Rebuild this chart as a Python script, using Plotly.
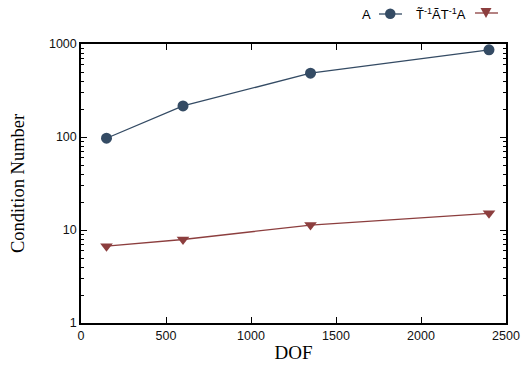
import plotly.graph_objects as go

dof = [150, 600, 1350, 2400]
cond_A = [97, 216, 485, 865]
cond_pre = [6.7, 7.9, 11.3, 15.1]
x_ticks = [0, 500, 1000, 1500, 2000, 2500]
y_ticks = [1, 10, 100, 1000]
y_tick_labels = ["1", "10", "100", "1000"]
series_names = ["A", "T̃<sup>-1</sup>ÃT<sup>-1</sup>A"]

BLUE = "#344B64"
RED = "#8C3E3E"

fig = go.Figure()
fig.add_trace(go.Scatter(x=dof, y=cond_A, mode="lines+markers", name=series_names[0],
                         line=dict(color=BLUE, width=1.3),
                         marker=dict(symbol="circle", size=11, color=BLUE)))
fig.add_trace(go.Scatter(x=dof, y=cond_pre, mode="lines+markers", name=series_names[1],
                         line=dict(color=RED, width=1.3),
                         marker=dict(symbol="triangle-down", size=11, color=RED)))

minor_vals = [k * 10 ** e for e in range(3) for k in range(2, 10)]

axis_common = dict(showgrid=False, zeroline=False, showline=True, linecolor="black",
                   linewidth=1.5, mirror="ticks", ticks="inside", tickcolor="black",
                   ticklen=6, tickwidth=1, automargin=False,
                   tickfont=dict(family="Liberation Sans, Arial", size=12.5, color="#111111"))

fig.update_xaxes(range=[0, 2500], tickvals=x_ticks,
                 title=dict(text="DOF", font=dict(family="Liberation Serif, Times New Roman", size=19, color="black"), standoff=4),
                 **axis_common)
fig.update_yaxes(type="log", range=[0, 3], tickvals=y_ticks, ticktext=y_tick_labels,
                 minor=dict(ticks="inside", ticklen=3, tickvals=minor_vals, tickcolor="black"),
                 title=dict(text="Condition Number", font=dict(family="Liberation Serif, Times New Roman", size=18.5, color="black"), standoff=19),
                 **axis_common)

# gnuplot-style legend (text before sample) at top right
shapes = [
    dict(type="line", xref="paper", yref="paper", x0=(379-81)/425, x1=(402-81)/425,
         y0=(323-14)/279, y1=(323-14)/279, line=dict(color=BLUE, width=1.3)),
    dict(type="circle", xref="paper", yref="paper", x0=(385-81)/425, x1=(395.5-81)/425,
         y0=(323-19)/279, y1=(323-8.5)/279, fillcolor=BLUE, line=dict(color=BLUE, width=0)),
    dict(type="line", xref="paper", yref="paper", x0=(475-81)/425, x1=(498-81)/425,
         y0=(323-13)/279, y1=(323-13)/279, line=dict(color=RED, width=1.3)),
    dict(type="path", xref="paper", yref="paper",
         path="M {a},{b} L {c},{b} L {d},{e} Z".format(a=(480.5-81)/425, c=(491.5-81)/425, d=(486-81)/425,
                                                    b=(323-8)/279, e=(323-18)/279),
         fillcolor=RED, line=dict(color=RED, width=0)),
]
annotations = [
    dict(text=series_names[0], xref="paper", yref="paper", x=(373-81)/425, y=(323-14)/279,
         xanchor="right", yanchor="middle", showarrow=False,
         font=dict(family="Liberation Sans, Arial", size=13, color="black")),
    dict(text=series_names[1], xref="paper", yref="paper", x=(468-81)/425, y=(323-14)/279,
         xanchor="right", yanchor="middle", showarrow=False,
         font=dict(family="Liberation Sans, Arial", size=13, color="black")),
]

fig.update_layout(width=523, height=372, showlegend=False,
                  margin=dict(l=81, r=17, t=44, b=49, autoexpand=False),
                  paper_bgcolor="white", plot_bgcolor="white",
                  shapes=shapes, annotations=annotations)

fig.write_html("out.html", config={"displayModeBar": False},
               post_script="document.body.style.margin='0';document.body.style.padding='0';"
                           "document.documentElement.style.overflow='hidden';")
